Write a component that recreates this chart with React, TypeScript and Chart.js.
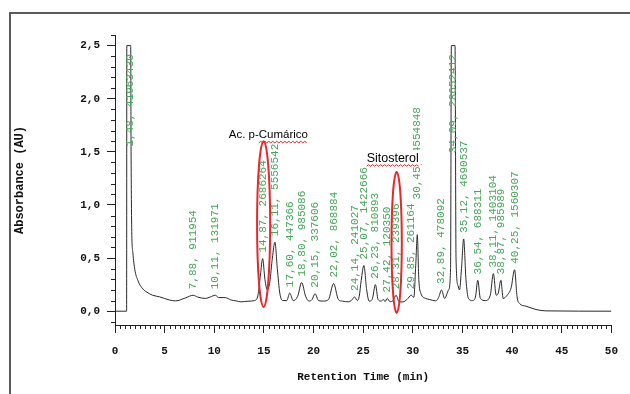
import React, { useEffect, useRef } from "react";
import { Chart, registerables } from "chart.js";

Chart.register(...registerables);

// Chromatogram trace (retention time in min, absorbance in AU)
const traceTimes = [
  0, 1.17, 1.19, 1.58, 1.62, 1.68, 1.8, 2.0, 2.3, 2.8, 3.2, 3.8, 4.5, 5.5, 6.1, 7.1, 7.88, 8.3, 9.1, 9.6,
  10.11, 10.45, 11.1, 11.7, 12.2, 12.7, 13.4, 14.05, 14.4, 14.65, 14.87, 15.1, 15.35, 15.6, 15.85, 16.11,
  16.35, 16.6, 16.9, 17.3, 17.6, 17.95, 18.4, 18.8, 19.2, 19.55, 19.85, 20.15, 20.5, 21.0, 21.5, 22.02,
  22.5, 22.9, 23.5, 23.8, 24.14, 24.4, 24.6, 24.8, 25.07, 25.35, 25.6, 25.9, 26.23, 26.5, 26.8, 27.05,
  27.2, 27.42, 27.7, 28.0, 28.31, 28.6, 29.0, 29.4, 29.85, 30.1, 30.3, 30.45, 30.6, 30.8, 31.3, 31.7,
  32.3, 32.6, 32.89, 33.2, 33.6, 33.8, 33.88, 34.25, 34.35, 34.55, 34.7, 34.9, 35.12, 35.35, 35.6, 36.0,
  36.3, 36.54, 36.8, 37.3, 37.8, 38.11, 38.4, 38.6, 38.87, 39.1, 39.5, 39.9, 40.25, 40.5, 40.75, 41.4,
  42.4, 43.4, 50,
];
const traceAbs = [
  0, 0, 2.5, 2.5, 1.5, 0.79, 0.55, 0.39, 0.29, 0.21, 0.18, 0.15, 0.135, 0.105, 0.097, 0.125, 0.15, 0.134, 0.12, 0.134,
  0.15, 0.128, 0.128, 0.105, 0.097, 0.088, 0.094, 0.1, 0.15, 0.34, 0.495, 0.3, 0.2, 0.28, 0.5, 0.65,
  0.4, 0.17, 0.1, 0.1, 0.17, 0.1, 0.14, 0.27, 0.14, 0.095, 0.11, 0.165, 0.1, 0.095, 0.11, 0.26,
  0.11, 0.095, 0.088, 0.1, 0.134, 0.1, 0.14, 0.29, 0.43, 0.2, 0.095, 0.11, 0.25, 0.11, 0.095, 0.11,
  0.09, 0.12, 0.09, 0.1, 0.15, 0.09, 0.087, 0.11, 0.15, 0.13, 0.45, 0.72, 0.3, 0.17, 0.12, 0.11,
  0.097, 0.13, 0.2, 0.12, 0.2, 0.4, 2.5, 2.5, 0.5, 0.24, 0.2, 0.4, 0.68, 0.3, 0.12, 0.1,
  0.13, 0.29, 0.12, 0.1, 0.15, 0.354, 0.15, 0.17, 0.29, 0.12, 0.15, 0.22, 0.39, 0.134, 0.072, 0.047,
  0.016, 0.003, 0,
];

// Peak table
const peakTimes = [1.48, 7.88, 10.11, 14.87, 16.11, 17.6, 18.8, 20.15, 22.02, 24.14, 25.07, 26.23, 27.42, 28.31, 29.85, 30.45, 32.89, 34.09, 35.12, 36.54, 38.11, 38.87, 40.25];
const peakAreas = [41963430, 911954, 131971, 2686264, 5556542, 447366, 985086, 337606, 868884, 241027, 1422666, 810893, 120350, 239396, 261164, 4554848, 478092, 28652412, 4690537, 688311, 1403104, 985989, 1560307];

// Axis ticks
const xTickValues = [0, 5, 10, 15, 20, 25, 30, 35, 40, 45, 50];
const yTickValues = [0, 0.5, 1.0, 1.5, 2.0, 2.5];

// Annotations
const noteTexts = ["Ac. p-Cumárico", "Sitosterol"];
const noteTimes = [15.45, 27.97];
const noteLevels = [1.66, 1.44];
const ellipseTimes = [14.97, 28.37];
const ellipseHalfWidths = [0.66, 0.52];
const ellipseLows = [0.04, -0.016];
const ellipseHighs = [1.6, 1.31];

const MONO = '"Liberation Mono", "DejaVu Sans Mono", monospace';
const SANS = '"Liberation Sans", Arial, sans-serif';

const fmt = (v: number, d: number) => v.toFixed(d).replace(".", ",");

const framePlugin = {
  id: "frame",
  beforeDraw(chart: any) {
    const { ctx, width, height } = chart;
    ctx.save();
    ctx.fillStyle = "#ffffff";
    ctx.fillRect(0, 0, width, height);
    ctx.strokeStyle = "#5a5a5a";
    ctx.lineWidth = 2;
    ctx.beginPath();
    ctx.moveTo(10, height + 2);
    ctx.lineTo(10, 13);
    ctx.lineTo(width + 2, 13);
    ctx.stroke();
    ctx.restore();
  },
};

const minorTicksPlugin = {
  id: "minorTicks",
  afterDraw(chart: any) {
    const { ctx, chartArea } = chart;
    const xs = chart.scales.x;
    const ys = chart.scales.y;
    ctx.save();
    ctx.strokeStyle = "#222";
    ctx.lineWidth = 1;
    ctx.beginPath();
    for (let k = -1; k <= 26; k++) {
      if (k % 5 === 0) continue;
      const py = Math.round(ys.getPixelForValue(k / 10)) + 0.5;
      ctx.moveTo(chartArea.left - 4, py);
      ctx.lineTo(chartArea.left, py);
    }
    for (let k = 1; k < 100; k++) {
      if (k % 10 === 0) continue;
      const px = Math.round(xs.getPixelForValue(k / 2)) + 0.5;
      ctx.moveTo(px, chartArea.bottom);
      ctx.lineTo(px, chartArea.bottom + 4);
    }
    ctx.stroke();
    ctx.restore();
  },
};

const peakLabelPlugin = {
  id: "peakLabels",
  afterDatasetsDraw(chart: any) {
    const { ctx } = chart;
    const xs = chart.scales.x;
    const ys = chart.scales.y;
    const topLimit = ys.getPixelForValue(2.42);
    ctx.save();
    ctx.font = `11px ${MONO}`;
    ctx.fillStyle = "#47a65a";
    ctx.textAlign = "left";
    ctx.textBaseline = "middle";
    const placed: { px: number; top: number; bottom: number }[] = [];
    peakTimes.forEach((t, i) => {
      let h = 0;
      traceTimes.forEach((tt, j) => {
        if (Math.abs(tt - t) <= 0.2 && traceAbs[j] > h) h = traceAbs[j];
      });
      const px = xs.getPixelForValue(t);
      const label = `${fmt(t, 2)}, ${peakAreas[i]}`;
      const w = ctx.measureText(label).width;
      let bottom = ys.getPixelForValue(h) - 6;
      if (bottom - w < topLimit) bottom = topLimit + w;
      placed.forEach((p) => {
        if (Math.abs(p.px - px) < 7 && bottom > p.top && bottom - w < p.bottom) {
          bottom = p.top - 4;
        }
      });
      placed.push({ px, top: bottom - w, bottom });
      ctx.save();
      ctx.translate(px, bottom);
      ctx.rotate(-Math.PI / 2);
      ctx.fillText(label, 0, 0);
      ctx.restore();
    });
    ctx.restore();
  },
};

const annotationPlugin = {
  id: "notes",
  afterDatasetsDraw(chart: any) {
    const { ctx } = chart;
    const xs = chart.scales.x;
    const ys = chart.scales.y;
    ctx.save();
    ctx.strokeStyle = "#e8262b";
    ctx.lineWidth = 2;
    ellipseTimes.forEach((t, i) => {
      const cx = xs.getPixelForValue(t);
      const rx = xs.getPixelForValue(t + ellipseHalfWidths[i]) - cx;
      const top = ys.getPixelForValue(ellipseHighs[i]);
      const bot = ys.getPixelForValue(ellipseLows[i]);
      ctx.beginPath();
      ctx.ellipse(cx, (top + bot) / 2, rx, (bot - top) / 2, 0, 0, Math.PI * 2);
      ctx.stroke();
    });
    noteTexts.forEach((txt, i) => {
      ctx.font = `${i === 0 ? 11.5 : 12.5}px ${SANS}`;
      const cx = xs.getPixelForValue(noteTimes[i]);
      const cy = ys.getPixelForValue(noteLevels[i]);
      const w = ctx.measureText(txt).width;
      const x0 = cx - w / 2;
      if (i === 1) {
        ctx.fillStyle = "#ffffff";
        ctx.fillRect(x0 - 1, cy - 8, w + 3, 16);
      }
      ctx.fillStyle = "#000";
      ctx.textAlign = "left";
      ctx.textBaseline = "middle";
      ctx.fillText(txt, x0, cy);
      let ux0 = x0;
      if (i === 0) ux0 = x0 + ctx.measureText("Ac. p-").width;
      const ux1 = x0 + w;
      const uy = cy + 8;
      ctx.strokeStyle = "#e8262b";
      ctx.lineWidth = 1;
      ctx.beginPath();
      let up = true;
      ctx.moveTo(ux0, uy);
      for (let x = ux0 + 2; x <= ux1; x += 2) {
        ctx.lineTo(x, up ? uy - 1.5 : uy);
        up = !up;
      }
      ctx.stroke();
    });
    ctx.restore();
  },
};

export default function App() {
  const ref = useRef<HTMLCanvasElement>(null);
  useEffect(() => {
    if (!ref.current) return;
    const tickFont = { family: MONO, size: 11, weight: "bold" as const };
    const chart = new Chart(ref.current, {
      type: "line",
      data: {
        datasets: [
          {
            data: traceTimes.map((t, i) => ({ x: t, y: traceAbs[i] })),
            borderColor: "#2a2a2a",
            borderWidth: 1,
            pointRadius: 0,
            cubicInterpolationMode: "monotone",
            fill: false,
          },
        ],
      },
      options: {
        animation: false,
        responsive: false,
        maintainAspectRatio: false,
        layout: { padding: { top: 35, right: 10, left: 0, bottom: 0 } },
        plugins: { legend: { display: false }, tooltip: { enabled: false } },
        scales: {
          x: {
            type: "linear",
            min: 0,
            max: 50,
            afterFit: (s: any) => {
              s.height = 69;
            },
            afterBuildTicks: (s: any) => {
              s.ticks = xTickValues.map((v) => ({ value: v }));
            },
            ticks: {
              autoSkip: false,
              maxRotation: 0,
              includeBounds: false,
              padding: 12,
              color: "#111",
              font: tickFont,
              callback: (v: any) => String(v),
            },
            grid: { display: true, drawOnChartArea: false, drawTicks: true, tickLength: 8, color: "#222", tickColor: "#222" },
            border: { display: true, color: "#222", width: 1 },
            title: {
              display: true,
              text: "Retention Time (min)",
              color: "#111",
              font: tickFont,
              padding: { top: 0, bottom: 10 },
            },
          },
          y: {
            type: "linear",
            min: -0.13,
            max: 2.6,
            afterFit: (s: any) => {
              s.width = 115;
            },
            afterBuildTicks: (s: any) => {
              s.ticks = yTickValues.map((v) => ({ value: v }));
            },
            ticks: {
              autoSkip: false,
              includeBounds: false,
              padding: 7,
              color: "#111",
              font: tickFont,
              callback: (v: any) => fmt(Number(v), 1),
            },
            grid: { display: true, drawOnChartArea: false, drawTicks: true, tickLength: 8, color: "#222", tickColor: "#222" },
            border: { display: true, color: "#222", width: 1 },
            title: {
              display: true,
              text: "Absorbance (AU)",
              color: "#111",
              font: { family: MONO, size: 12, weight: "bold" },
              padding: { top: 13, bottom: 0 },
            },
          },
        },
      },
      plugins: [framePlugin, minorTicksPlugin, peakLabelPlugin, annotationPlugin],
    } as any);
    return () => chart.destroy();
  }, []);
  return (
    <div style={{ position: "absolute", left: 0, top: 0, width: 630, height: 394, background: "#fff" }}>
      <canvas ref={ref} width={630} height={394} style={{ width: 630, height: 394, display: "block" }} />
    </div>
  );
}
